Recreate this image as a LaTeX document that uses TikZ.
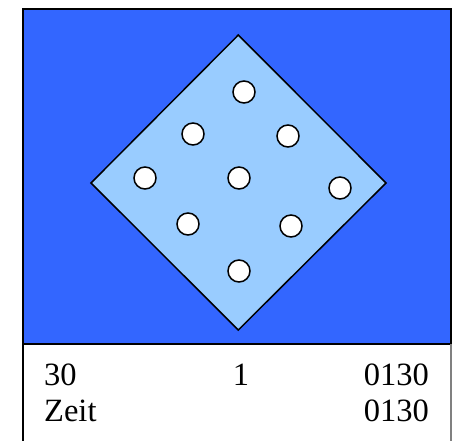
\documentclass[tikz,border=0pt]{standalone}
\usepackage{fontspec}
\setmainfont{Liberation Serif}
\definecolor{bgblue}{HTML}{3366FF}
\definecolor{lightblue}{HTML}{99CCFF}
\begin{document}
\begin{tikzpicture}[x=1pt,y=-1pt,
  dot/.style={circle,draw=black,line width=1.5pt,fill=white,minimum size=22pt,inner sep=0pt},
  lbl/.style={font=\fontsize{32.5}{36}\selectfont,inner sep=0pt}]
\useasboundingbox (0,0) rectangle (452,441);
\fill[white] (0,0) rectangle (452,441);
\draw[line width=1.5pt,fill=bgblue] (23,9) rectangle (451,344);
\draw[line width=1.2pt] (23,344) -- (23,445);
\draw[line width=1.2pt,gray] (451,344) -- (451,445);
\draw[line width=1.5pt,fill=lightblue] (238.3,35) -- (386,183) -- (238.3,330) -- (91,183) -- cycle;
\node[dot] (c1) at (244,92) {};
\node[dot] (c2) at (193,134) {};
\node[dot] (c3) at (288,136) {};
\node[dot] (c4) at (145,178) {};
\node[dot] (c5) at (239,178) {};
\node[dot] (c6) at (340,188) {};
\node[dot] (c7) at (188,224) {};
\node[dot] (c8) at (291,226) {};
\node[dot] (c9) at (239,271) {};
\node[lbl,anchor=base west] (t1) at (44,385) {30};
\node[lbl,anchor=base] (t2) at (241,385) {1};
\node[lbl,anchor=base east] (t3) at (429,385) {0130};
\node[lbl,anchor=base west] (t4) at (44,421) {Zeit};
\node[lbl,anchor=base east] (t5) at (429,421) {0130};
\end{tikzpicture}
\end{document}
